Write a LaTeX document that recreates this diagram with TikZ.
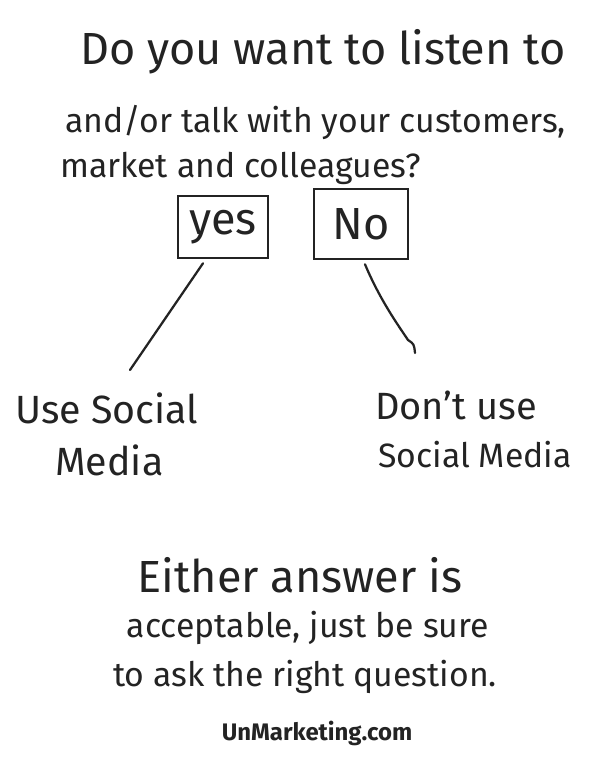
\documentclass[tikz,border=0pt]{standalone}
\usepackage{fontspec}
\setmainfont{Fira Sans}
\usetikzlibrary{positioning}
\usetikzlibrary{calc}
\definecolor{ink}{HTML}{232323}

\tikzset{
    hand/.style={text=ink, inner sep=0pt, anchor=west},
    handc/.style={text=ink, inner sep=0pt},
    answer/.style={draw=ink, line width=1.8pt, text=ink, inner sep=0pt},
    stroke/.style={draw=ink, line width=1.6pt, line cap=round, line join=round},
}

\begin{document}
\begin{tikzpicture}[x=0.025cm, y=-0.025cm]
    \useasboundingbox (0,0) rectangle (600,770);

    % question
    \node[hand, font=\fontsize{32}{36}\selectfont] (q1) at (80,52) {Do you want to listen to};
    \node[hand, font=\fontsize{24}{30}\selectfont] (q2) at (65,122) {and/or talk with your customers,};
    \node[hand, font=\fontsize{24}{30}\selectfont] (q3) at (60,168) {market and colleagues?};

    % answers
    \node[answer, minimum width=2.25cm, minimum height=1.55cm, font=\fontsize{32}{34}\selectfont] (yes) at (223,227) {yes};
    \node[answer, minimum width=2.35cm, minimum height=1.75cm, font=\fontsize{32}{34}\selectfont] (no) at (361,224) {No};

    % outcomes
    \node[hand, font=\fontsize{28}{30}\selectfont] (useA) at (15,408) {Use Social};
    \node[hand, font=\fontsize{28}{30}\selectfont] (useB) at (55,460) {Media};
    \node[hand, font=\fontsize{27}{30}\selectfont] (dontA) at (375,405) {Don't use};
    \node[hand, font=\fontsize{24}{30}\selectfont] (dontB) at (378,455) {Social Media};

    \coordinate (yesEnd) at (130,370);
    \coordinate (noEnd) at (415,353);

    \draw[stroke] ($(yes.south)+(-20,4)$) -- (yesEnd);
    \draw[stroke] ($(no.south)+(4,4)$) .. controls (380,300) and (398,325) .. (408,340)
        .. controls (414,344) .. (noEnd);

    % closing note
    \node[handc, font=\fontsize{32}{36}\selectfont] (n1) at (300,575) {Either answer is};
    \node[handc, font=\fontsize{24}{28}\selectfont] (n2) at (308,628) {acceptable, just be sure};
    \node[handc, font=\fontsize{24}{28}\selectfont] (n3) at (305,677) {to ask the right question.};
    \node[handc, font=\fontsize{17}{20}\selectfont\bfseries] (url) at (317,733) {UnMarketing.com};
\end{tikzpicture}
\end{document}
